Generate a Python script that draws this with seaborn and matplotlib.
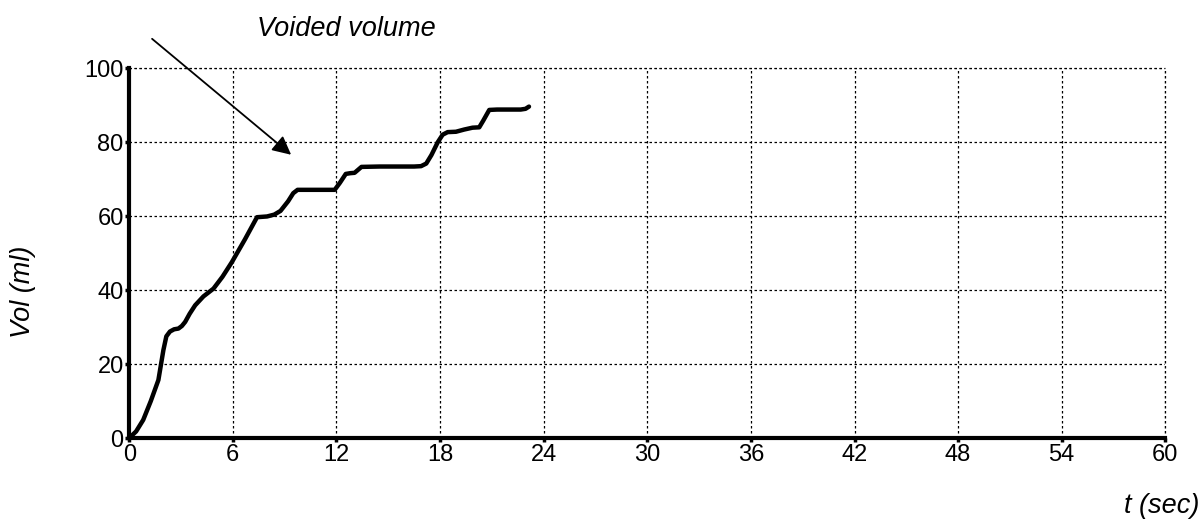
import matplotlib.pyplot as plt
import numpy as np
import pandas as pd
import seaborn as sns

# Datos (tiempo en s, volumen en ml)
t_sec = [0.0, 0.4, 0.81, 1.25, 1.69, 1.98, 2.15, 2.36, 2.6, 2.85, 3.05, 3.24, 3.5, 3.82, 4.3,
         4.88, 5.4, 5.95, 6.7, 7.4, 7.98, 8.4, 8.76, 9.2, 9.5, 9.75, 10.5, 11.3, 11.9,
         12.2, 12.54, 12.8, 13.05, 13.25, 13.45, 14.5, 15.5, 16.5, 16.9, 17.2, 17.5,
         17.87, 18.15, 18.44, 18.92, 19.4, 19.88, 20.27, 20.5, 20.85, 21.3, 22.0, 22.67,
         22.95, 23.15]
vol_ml = [0.0, 1.8, 4.9, 10.0, 15.7, 23.8, 27.5, 28.8, 29.4, 29.6, 30.3, 31.4, 33.6, 35.9,
          38.3, 40.4, 43.6, 47.6, 53.7, 59.7, 59.9, 60.4, 61.4, 64.0, 66.2, 67.1, 67.1,
          67.1, 67.1, 69.0, 71.4, 71.6, 71.7, 72.5, 73.3, 73.4, 73.4, 73.4, 73.5, 74.2,
          76.5, 80.0, 82.0, 82.7, 82.8, 83.4, 83.9, 84.0, 85.8, 88.7, 88.8, 88.8, 88.8,
          89.0, 89.6]

x_ticks = [0, 6, 12, 18, 24, 30, 36, 42, 48, 54, 60]
y_ticks = [0, 20, 40, 60, 80, 100]

df = pd.DataFrame({'t': t_sec, 'vol': vol_ml})

sns.set_style("white")
plt.rcParams['font.family'] = ['Liberation Sans', 'DejaVu Sans']
plt.rcParams['text.color'] = 'black'
plt.rcParams['xtick.color'] = 'black'
plt.rcParams['ytick.color'] = 'black'

fig = plt.figure(figsize=(12.02, 5.24), dpi=100)
ax = fig.add_axes([0.1075, 0.164, 0.862, 0.706])

sns.lineplot(x='t', y='vol', data=df, ax=ax, color='black', linewidth=3.2,
             estimator=None, sort=False, solid_capstyle='round', solid_joinstyle='round')

ax.set_xlim(0, 60)
ax.set_ylim(0, 100)
ax.set_xticks(x_ticks)
ax.set_yticks(y_ticks)
ax.tick_params(axis='both', labelsize=17, length=3, width=2.5, pad=1, direction='out',
               colors='black', bottom=True, left=True)

# Rejilla punteada
ax.grid(True, color='black', linestyle=(0, (2, 2)), linewidth=0.9)
ax.axhline(100, color='black', linestyle=(0, (2, 2)), linewidth=0.9, clip_on=False)
ax.axvline(60, color='black', linestyle=(0, (2, 2)), linewidth=0.9, clip_on=False)

for s in ['top', 'right']:
    ax.spines[s].set_visible(False)
for s in ['left', 'bottom']:
    ax.spines[s].set_linewidth(3)
    ax.spines[s].set_color('black')

ax.set_xlabel('')
ax.set_ylabel('')
fig.text(0.998, 0.035, 't (sec)', fontsize=19.5, style='italic', ha='right', va='center')
fig.text(0.019, 0.443, 'Vol (ml)', fontsize=19.5, style='italic', rotation=90,
         ha='center', va='center')

# Anotacion con flecha
ax.text(12.6, 110.5, 'Voided volume', fontsize=19.5, style='italic',
        ha='center', va='center', clip_on=False)
ax.annotate('', xy=(9.5, 76.1), xytext=(1.2, 108.4),
            arrowprops=dict(arrowstyle='-|>', color='black', lw=1.3, mutation_scale=28),
            annotation_clip=False)

plt.savefig('out.png', dpi=100)
